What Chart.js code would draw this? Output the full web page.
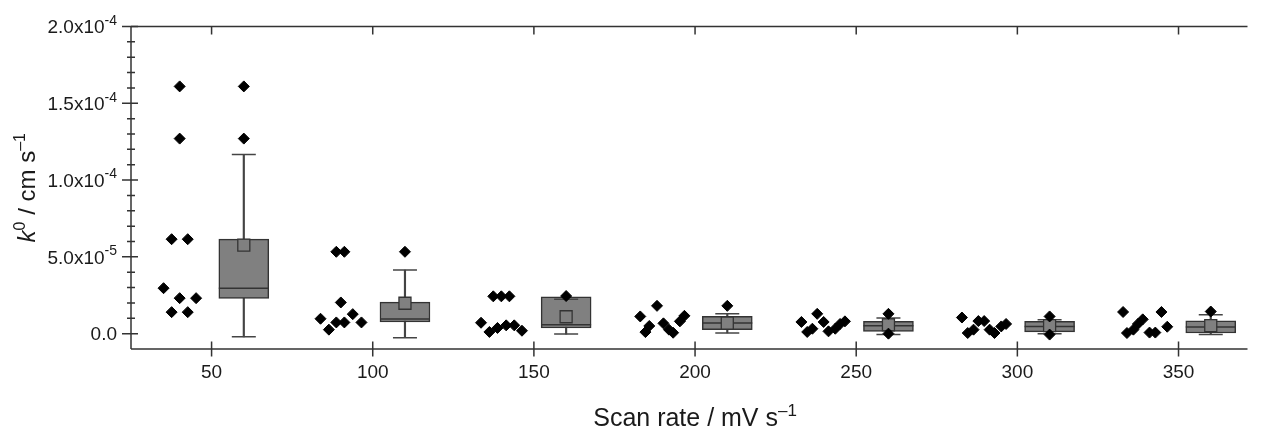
<!DOCTYPE html>
<html>
<head>
<meta charset="utf-8">
<script src="https://cdn.jsdelivr.net/npm/chart.js@4.4.1/dist/chart.umd.min.js"></script>
<style>
    html, body { margin: 0; padding: 0; background: #fff; overflow: hidden; }
    #chart { display: block; }
</style>
</head>
<body>
<canvas id="chart" width="1274" height="432"></canvas>
<script>
// k0 values are in units of 1e-6 cm s^-1
const scanRates = [50, 100, 150, 200, 250, 300, 350];
const boxShift = 10;

// individual measurements (x = jittered scan rate, k = k0)
const rawX = [
    [40.1, 40.1, 37.6, 42.6, 35.1, 40.1, 45.2, 37.6, 42.6],
    [88.7, 91.2, 90.1, 83.8, 93.8, 88.7, 91.2, 96.5, 86.4],
    [137.4, 139.9, 142.4, 133.6, 136.2, 138.7, 141.4, 143.9, 146.3],
    [188.2, 183.0, 196.7, 185.8, 184.6, 190.2, 191.9, 193.2, 195.3],
    [233.0, 237.9, 234.8, 236.4, 239.9, 241.4, 243.5, 245.0, 246.5],
    [282.8, 287.9, 289.7, 284.6, 286.4, 291.4, 292.9, 295.0, 296.5],
    [332.8, 344.7, 338.9, 337.4, 334.0, 336.0, 341.0, 342.8, 346.5]
];
const rawK = [
    [161, 127, 61.5, 61.5, 29.6, 23.1, 23.1, 14, 14],
    [53.3, 53.3, 20.3, 9.7, 12.7, 7.3, 7.3, 7.3, 2.6],
    [24.3, 24.3, 24.3, 7.1, 1.1, 3.7, 5.4, 5.4, 1.9],
    [18.1, 11.2, 11.6, 5.0, 1.0, 6.7, 2.6, 0.6, 8.0],
    [7.6, 12.9, 1.1, 3.2, 7.6, 1.5, 3.2, 6.3, 8.0],
    [10.5, 8.2, 8.2, 0.4, 2.6, 2.6, 0.4, 4.7, 6.3],
    [14.1, 14.1, 9.3, 6.3, 0.4, 2.6, 0.7, 0.7, 4.5]
];

// box statistics
const boxQ1 = [23.0, 7.6, 3.7, 2.6, 1.5, 1.1, 0.4];
const boxQ3 = [61.5, 20.5, 24.0, 11.2, 8.0, 8.0, 8.4];
const boxMedian = [29.6, 9.5, 5.8, 6.9, 5.2, 4.7, 4.3];
const boxMean = [57.6, 19.8, 11.0, 6.9, 5.8, 5.2, 5.2];
const whiskerLow = [-2.1, -2.6, -0.3, 0.4, -0.6, 0.0, -0.6];
const whiskerHigh = [116.7, 41.4, 22.4, 12.9, 10.2, 9.1, 12.3];
const outliers = [[127, 161], [53.3], [24.5], [18.1], [12.9, 0.0], [11.2, -0.6], [14.4]];

const yMajorTicks = [0, 50, 100, 150, 200];
const yMinorTicks = [10, 20, 30, 40, 60, 70, 80, 90, 110, 120, 130, 140, 160, 170, 180, 190];

const fontFamily = "'Liberation Sans', Arial, Helvetica, sans-serif";
const axisColor = '#333333';
const boxFill = '#808080';

// build datasets from the arrays
const boxX = scanRates.map(r => r + boxShift);
const rawPoints = [];
rawX.forEach((xs, i) => xs.forEach((x, j) => rawPoints.push({ x: x, y: rawK[i][j] })));
const outlierPoints = [];
outliers.forEach((list, i) => list.forEach(v => outlierPoints.push({ x: boxX[i], y: v })));
const capPoints = [];
boxX.forEach((x, i) => {
    capPoints.push({ x: x, y: whiskerLow[i] });
    capPoints.push({ x: x, y: whiskerHigh[i] });
});

function drawParts(ctx, parts, x, y, align) {
    // parts: [{ text, size, dy, italic }]
    let total = 0;
    parts.forEach(p => {
        ctx.font = (p.italic ? 'italic ' : '') + p.size + 'px ' + fontFamily;
        p.w = ctx.measureText(p.text).width;
        total += p.w;
    });
    let cx = x;
    if (align === 'right') cx = x - total;
    if (align === 'center') cx = x - total / 2;
    ctx.textAlign = 'left';
    parts.forEach(p => {
        ctx.font = (p.italic ? 'italic ' : '') + p.size + 'px ' + fontFamily;
        ctx.fillText(p.text, cx, y + (p.dy || 0));
        cx += p.w;
    });
}

function yLabelParts(v) {
    if (v === 0) return [{ text: '0.0', size: 19 }];
    const [mant, exp] = (v * 1e-6).toExponential(1).split('e');
    return [
        { text: mant + 'x10', size: 19 },
        { text: exp, size: 14, dy: -7 }
    ];
}

const axesPlugin = {
    id: 'axesPlugin',
    afterDraw(chart) {
        const { ctx, chartArea: a, scales: { x, y } } = chart;
        ctx.save();
        ctx.strokeStyle = axisColor;
        ctx.fillStyle = '#1a1a1a';
        ctx.lineWidth = 1.5;

        // axis lines
        ctx.beginPath();
        ctx.moveTo(a.left, a.top);
        ctx.lineTo(a.left, a.bottom);
        ctx.moveTo(a.left, a.bottom);
        ctx.lineTo(a.right, a.bottom);
        ctx.moveTo(a.left, a.top);
        ctx.lineTo(a.right, a.top);
        ctx.stroke();

        // y ticks
        ctx.beginPath();
        yMajorTicks.forEach(v => {
            const py = y.getPixelForValue(v);
            ctx.moveTo(a.left - 9, py);
            ctx.lineTo(a.left + 7, py);
        });
        yMinorTicks.forEach(v => {
            const py = y.getPixelForValue(v);
            ctx.moveTo(a.left - 4, py);
            ctx.lineTo(a.left + 4, py);
        });
        // x ticks, bottom crossing and top inward
        scanRates.forEach(v => {
            const px = x.getPixelForValue(v);
            ctx.moveTo(px, a.bottom - 7.5);
            ctx.lineTo(px, a.bottom + 7.5);
            ctx.moveTo(px, a.top);
            ctx.lineTo(px, a.top + 8);
        });
        ctx.stroke();

        // y tick labels
        ctx.textBaseline = 'middle';
        yMajorTicks.forEach(v => {
            drawParts(ctx, yLabelParts(v), a.left - 14, y.getPixelForValue(v) + 1.5, 'right');
        });

        // x tick labels
        scanRates.forEach(v => {
            drawParts(ctx, [{ text: String(v), size: 19 }], x.getPixelForValue(v), a.bottom + 24, 'center');
        });

        // x title
        ctx.textBaseline = 'alphabetic';
        drawParts(ctx, [
            { text: 'Scan rate / mV s', size: 25 },
            { text: '\u20131', size: 17, dy: -10 }
        ], x.getPixelForValue(200), 426, 'center');

        // y title
        ctx.save();
        ctx.translate(35, (a.top + a.bottom) / 2);
        ctx.rotate(-Math.PI / 2);
        drawParts(ctx, [
            { text: 'k', size: 24, italic: true },
            { text: '0', size: 16, dy: -10 },
            { text: ' / cm s', size: 24 },
            { text: '\u20131', size: 16, dy: -10 }
        ], 0, 0, 'center');
        ctx.restore();

        ctx.restore();
    }
};

new Chart(document.getElementById('chart'), {
    type: 'scatter',
    data: {
        datasets: [
            {
                label: 'k0',
                data: rawPoints,
                pointStyle: 'rectRot',
                pointRadius: 5.5,
                pointBackgroundColor: '#000',
                pointBorderColor: '#000',
                pointBorderWidth: 1,
                order: 0
            },
            {
                label: 'outliers',
                data: outlierPoints,
                pointStyle: 'rectRot',
                pointRadius: 5.5,
                pointBackgroundColor: '#000',
                pointBorderColor: '#000',
                pointBorderWidth: 1,
                order: 0
            },
            {
                label: 'mean',
                data: boxX.map((x, i) => ({ x: x, y: boxMean[i] })),
                pointStyle: 'rect',
                pointRadius: 8.5,
                pointBackgroundColor: boxFill,
                pointBorderColor: axisColor,
                pointBorderWidth: 1.3,
                order: 1
            },
            {
                label: 'median',
                data: boxX.map((x, i) => ({ x: x, y: boxMedian[i] })),
                pointStyle: 'line',
                pointRadius: 25,
                pointBorderColor: axisColor,
                pointBorderWidth: 1.5,
                order: 2
            },
            {
                label: 'caps',
                data: capPoints,
                pointStyle: 'line',
                pointRadius: 12,
                pointBorderColor: '#444',
                pointBorderWidth: 1.5,
                order: 2
            },
            {
                type: 'bar',
                label: 'box',
                data: boxX.map((x, i) => ({ x: x, y: [boxQ1[i], boxQ3[i]] })),
                backgroundColor: boxFill,
                borderColor: axisColor,
                borderWidth: 1.5,
                borderSkipped: false,
                barThickness: 50,
                grouped: false,
                order: 3
            },
            {
                type: 'bar',
                label: 'whisker',
                data: boxX.map((x, i) => ({ x: x, y: [whiskerLow[i], whiskerHigh[i]] })),
                backgroundColor: '#444',
                borderWidth: 0,
                barThickness: 1.5,
                grouped: false,
                order: 4
            }
        ]
    },
    options: {
        responsive: false,
        animation: false,
        events: [],
        devicePixelRatio: 1,
        layout: { padding: { top: 25, right: 0, left: 0, bottom: 0 } },
        plugins: {
            legend: { display: false },
            tooltip: { enabled: false }
        },
        scales: {
            x: {
                type: 'linear',
                min: 25,
                max: 371.4,
                offset: false,
                grid: { display: false },
                border: { display: false },
                ticks: { display: false },
                afterFit: s => { s.height = 83; }
            },
            y: {
                type: 'linear',
                min: -10,
                max: 200,
                grid: { display: false },
                border: { display: false },
                ticks: { display: false },
                afterFit: s => { s.width = 131; }
            }
        }
    },
    plugins: [axesPlugin]
});
</script>
</body>
</html>
